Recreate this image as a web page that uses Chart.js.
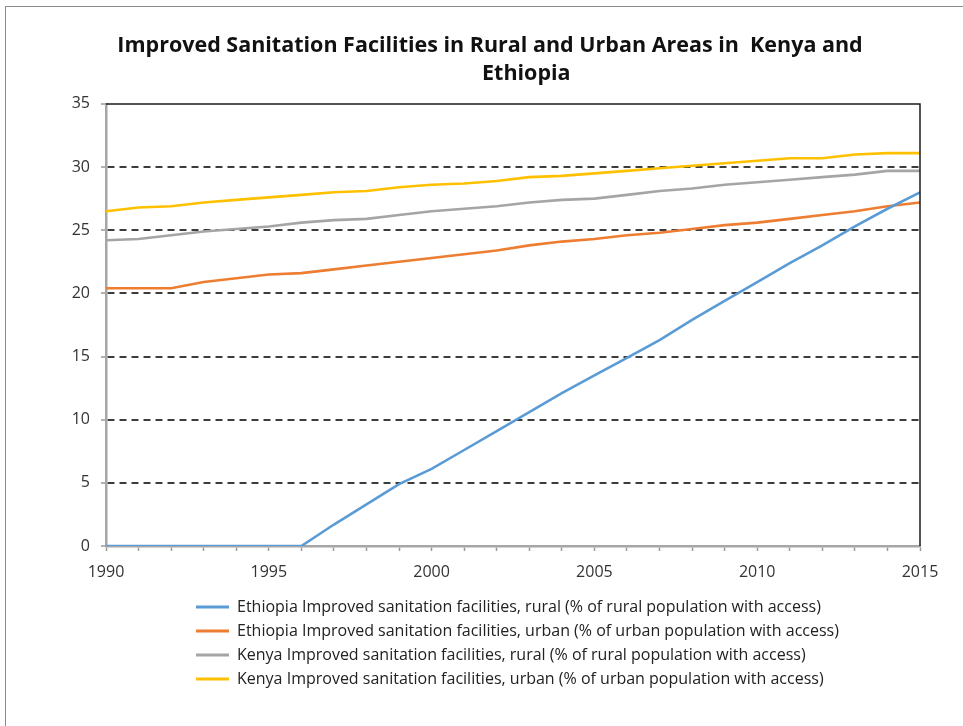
<!DOCTYPE html>
<html>
<head>
<meta charset="utf-8">
<script src="https://cdn.jsdelivr.net/npm/chart.js@4.4.1/dist/chart.umd.min.js"></script>
<style>
  html, body { margin: 0; padding: 0; background: #fff; overflow: hidden; }
  #frame { position: absolute; left: 5px; top: 6px; width: 1000px; height: 800px; border: 1px solid #8a8a8a; }
  #wrap { position: absolute; left: 0; top: 0; width: 963px; height: 726px; }
</style>
</head>
<body>
<div id="frame"></div>
<div id="wrap"><canvas id="c" width="963" height="726"></canvas></div>
<script>
const years = [1990,1991,1992,1993,1994,1995,1996,1997,1998,1999,2000,2001,2002,2003,2004,2005,2006,2007,2008,2009,2010,2011,2012,2013,2014,2015];
const ethiopiaRural = [0,0,0,0,0,0,0,1.7,3.3,4.9,6.1,7.6,9.1,10.6,12.1,13.5,14.9,16.3,17.9,19.4,20.9,22.4,23.8,25.3,26.7,28.0];
const ethiopiaUrban = [20.4,20.4,20.4,20.9,21.2,21.5,21.6,21.9,22.2,22.5,22.8,23.1,23.4,23.8,24.1,24.3,24.6,24.8,25.1,25.4,25.6,25.9,26.2,26.5,26.9,27.2];
const kenyaRural = [24.2,24.3,24.6,24.9,25.1,25.3,25.6,25.8,25.9,26.2,26.5,26.7,26.9,27.2,27.4,27.5,27.8,28.1,28.3,28.6,28.8,29.0,29.2,29.4,29.7,29.7];
const kenyaUrban = [26.5,26.8,26.9,27.2,27.4,27.6,27.8,28.0,28.1,28.4,28.6,28.7,28.9,29.2,29.3,29.5,29.7,29.9,30.1,30.3,30.5,30.7,30.7,31.0,31.1,31.1];
const seriesNames = [
  'Ethiopia Improved sanitation facilities, rural (% of rural population with access)',
  'Ethiopia Improved sanitation facilities, urban (% of urban population with access)',
  'Kenya Improved sanitation facilities, rural (% of rural population with access)',
  'Kenya Improved sanitation facilities, urban (% of urban population with access)'
];
const titleLines = ['Improved Sanitation Facilities in Rural and Urban Areas in  Kenya and', '             Ethiopia'];
const yTicks = [0,5,10,15,20,25,30,35];

const colors = ['#5B9BD5', '#ED7D31', '#A5A5A5', '#FFC000'];
const seriesValues = [ethiopiaRural, ethiopiaUrban, kenyaRural, kenyaUrban];

const frameBorder = {
  id: 'frameBorder',
  beforeDraw(chart) {
    chart.legend.left = 188;
    if (chart.titleBlock) { chart.titleBlock.left = 20; chart.titleBlock.right = 960; }
  },
  afterDatasetsDraw(chart) {
    const a = chart.chartArea, ctx = chart.ctx;
    ctx.save();
    ctx.strokeStyle = '#1a1a1a';
    ctx.lineWidth = 1.5;
    ctx.beginPath();
    ctx.moveTo(a.left, a.top);
    ctx.lineTo(a.right, a.top);
    ctx.lineTo(a.right, a.bottom);
    ctx.stroke();
    ctx.restore();
  }
};

new Chart(document.getElementById('c'), {
  type: 'line',
  data: {
    labels: years,
    datasets: seriesValues.map((vals, i) => ({
      label: seriesNames[i],
      data: vals,
      borderColor: colors[i],
      backgroundColor: colors[i],
      borderWidth: 2.6,
      pointRadius: 0,
      tension: 0,
      fill: false
    }))
  },
  options: {
    responsive: false,
    animation: false,
    devicePixelRatio: 1,
    layout: { padding: { left: 0, right: 43, top: 0, bottom: 29 } },
    plugins: {
      tooltip: { enabled: false },
      title: {
        display: true,
        text: titleLines,
        color: '#111',
        font: { family: 'Open Sans', size: 21.5, weight: 'bold', lineHeight: 1.3 },
        padding: { top: 32, bottom: 16 }
      },
      legend: {
        position: 'bottom',
        align: 'start',
        labels: {
          color: '#222',
          font: { family: 'Open Sans', size: 16 },
          boxWidth: 33,
          boxHeight: 3,
          padding: 8,
          generateLabels(chart) {
            const items = Chart.defaults.plugins.legend.labels.generateLabels(chart);
            items.forEach(it => { it.lineWidth = 0; });
            return items;
          }
        }
      }
    },
    scales: {
      x: {
        type: 'category',
        offset: false,
        afterFit(s) { s.height = 45; },
        grid: { drawOnChartArea: false, drawTicks: true, tickLength: 5, tickColor: '#9a9a9a', tickWidth: 1.5 },
        border: { display: true, color: '#a6a6a6', width: 2.5 },
        ticks: {
          autoSkip: false, maxRotation: 0, padding: 12,
          color: '#333', font: { family: 'Open Sans', size: 16 },
          callback(v, i) { const y = years[i]; return y % 5 === 0 ? String(y) : ''; }
        }
      },
      y: {
        min: 0, max: 35,
        afterFit(s) { s.width = 106; },
        afterBuildTicks(s) { s.ticks = yTicks.map(v => ({ value: v })); },
        grid: {
          color: c => (c.tick && (c.tick.value === 0 || c.tick.value === 35)) ? 'rgba(0,0,0,0)' : '#3c3c3c',
          lineWidth: 2,
          tickLength: 5, tickColor: '#9a9a9a', tickWidth: 1.5
        },
        border: { display: true, color: '#a6a6a6', width: 2.5, dash: [7, 5] },
        ticks: { padding: 11, color: '#333', font: { family: 'Open Sans', size: 16 } }
      }
    }
  },
  plugins: [frameBorder]
});
</script>
</body>
</html>
